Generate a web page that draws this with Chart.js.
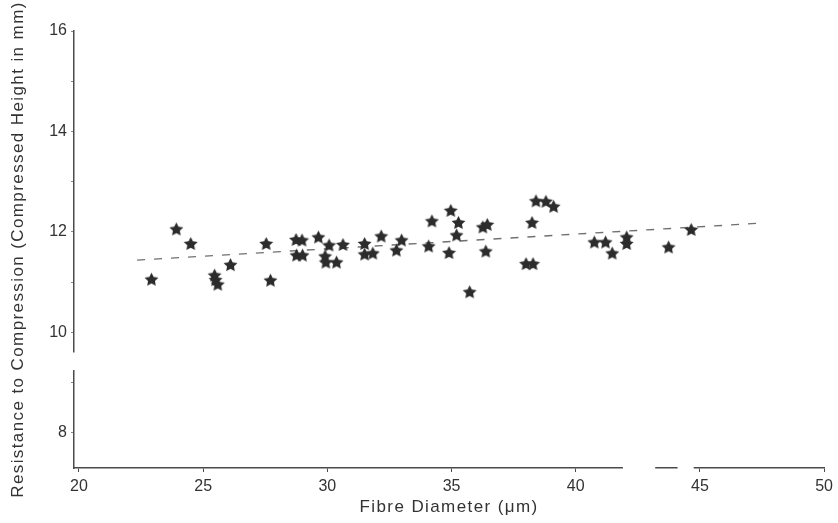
<!DOCTYPE html>
<html>
<head>
<meta charset="utf-8">
<script src="https://cdn.jsdelivr.net/npm/chart.js@4/dist/chart.umd.min.js"></script>
<style>
  html, body { margin: 0; padding: 0; background: #ffffff; }
  #wrap { width: 838px; height: 523px; position: relative; }
</style>
</head>
<body>
<div id="wrap"><canvas id="c" width="838" height="523"></canvas></div>
<script>
// Fibre diameter (µm) of each sample
const fibreDiameter = [
  22.92, 23.92, 24.50, 25.46, 25.50, 25.59, 26.10, 27.54, 27.71,
  28.74, 28.98, 28.76, 29.00, 29.64, 30.07, 29.91, 29.94, 30.37, 30.63,
  31.50, 31.50, 31.83, 32.17, 32.99, 32.78, 34.08, 34.21, 34.97, 35.28,
  35.20, 34.90, 35.73, 36.26, 36.44, 36.38, 38.24, 38.40, 38.80, 39.11,
  38.00, 38.28, 40.75, 41.20, 41.47, 42.05, 42.05, 43.74, 44.65
];
// Resistance to compression (compressed height in mm)
const compressedHeight = [
  11.06, 12.06, 11.77, 11.14, 11.05, 10.96, 11.35, 11.77, 11.04,
  11.85, 11.84, 11.54, 11.54, 11.90, 11.74, 11.52, 11.40, 11.40, 11.75,
  11.77, 11.56, 11.58, 11.92, 11.84, 11.64, 11.72, 12.22, 12.43, 12.19,
  11.94, 11.59, 10.81, 12.10, 12.15, 11.62, 12.19, 12.62, 12.61, 12.51,
  11.37, 11.37, 11.80, 11.80, 11.58, 11.90, 11.77, 11.70, 12.05
];
// Fitted trend line end points
const trendX = [22.34, 47.32];
const trendY = [11.44, 12.17];

const xTicks = [20, 25, 30, 35, 40, 45, 50];
const yTicks = [8, 9, 10, 11, 12, 13, 14, 15, 16];
const yLabelled = [8, 10, 12, 14, 16];

// breaks in the printed axis lines (data units)
const xAxisBreaks = [[41.9, 43.2], [44.1, 44.75]];
const yAxisBreaks = [[9.25, 9.6]];

// filled five-pointed star marker
function makeStar(size, color) {
  const cv = document.createElement('canvas');
  cv.width = size; cv.height = size;
  const g = cv.getContext('2d');
  const cx = size / 2, cy = size / 2 + 0.7;
  const ro = size / 2 - 0.2, ri = ro * 0.5;
  g.beginPath();
  for (let i = 0; i < 10; i++) {
    const r = i % 2 === 0 ? ro : ri;
    const a = -Math.PI / 2 + i * Math.PI / 5;
    const px = cx + r * Math.cos(a), py = cy + r * Math.sin(a);
    if (i === 0) g.moveTo(px, py); else g.lineTo(px, py);
  }
  g.closePath();
  g.fillStyle = color;
  g.fill();
  return cv;
}
const starImg = makeStar(15, '#2c2c2c');

const points = fibreDiameter.map((x, i) => ({ x: x, y: compressedHeight[i] }));
const trend = trendX.map((x, i) => ({ x: x, y: trendY[i] }));

const FONT = "'Liberation Sans', Arial, Helvetica, sans-serif";
const axisColor = '#4a4a4a';

// wider tracking for the axis titles, and breaks in the axis lines
const typesetPlugin = {
  id: 'typeset',
  beforeDraw(chart) {
    ['x', 'y'].forEach(id => {
      const s = chart.scales[id];
      if (s && !s._tracked) {
        const orig = s.drawTitle.bind(s);
        s.drawTitle = function (area) {
          const ctx = this.ctx;
          ctx.save();
          ctx.letterSpacing = '1.4px';
          orig(area);
          ctx.restore();
        };
        s._tracked = true;
      }
    });
  },
  afterDraw(chart) {
    const ctx = chart.ctx;
    const xs = chart.scales.x, ys = chart.scales.y;
    ctx.save();
    ctx.fillStyle = '#ffffff';
    xAxisBreaks.forEach(([a, b]) => {
      const p1 = xs.getPixelForValue(a), p2 = xs.getPixelForValue(b);
      ctx.fillRect(p1, ys.bottom - 3, p2 - p1, 6);
    });
    yAxisBreaks.forEach(([a, b]) => {
      const p1 = ys.getPixelForValue(b), p2 = ys.getPixelForValue(a);
      ctx.fillRect(xs.left - 3, p1, 6, p2 - p1);
    });
    ctx.restore();
  }
};

new Chart(document.getElementById('c'), {
  type: 'scatter',
  data: {
    datasets: [
      {
        type: 'line',
        data: trend,
        borderColor: '#707070',
        borderWidth: 1.3,
        borderDash: [8, 9],
        pointRadius: 0,
        fill: false,
        order: 2
      },
      {
        data: points,
        pointStyle: starImg,
        pointRadius: 7,
        order: 1
      }
    ]
  },
  plugins: [typesetPlugin],
  options: {
    responsive: false,
    animation: false,
    devicePixelRatio: 1,
    layout: { padding: { left: 0, right: 9, top: 31, bottom: 0 } },
    plugins: { legend: { display: false }, tooltip: { enabled: false } },
    scales: {
      x: {
        type: 'linear',
        min: 19.8,
        max: 50,
        afterBuildTicks: (s) => { s.ticks = xTicks.map(v => ({ value: v })); },
        afterFit: (s) => { s.height = 55; },
        border: { color: axisColor, width: 1.5 },
        grid: { drawOnChartArea: false, drawTicks: true, tickLength: 4, color: axisColor },
        ticks: { color: '#333', font: { family: FONT, size: 16 }, padding: 5, maxRotation: 0 },
        title: {
          display: true,
          text: 'Fibre Diameter (\u03bcm)',
          color: '#333',
          font: { family: FONT, size: 17 },
          padding: { top: 2, bottom: 5 }
        }
      },
      y: {
        type: 'linear',
        min: 7.3,
        max: 16,
        afterBuildTicks: (s) => { s.ticks = yTicks.map(v => ({ value: v })); },
        afterFit: (s) => { s.width = 74; },
        border: { color: axisColor, width: 1.5 },
        grid: { drawOnChartArea: false, drawTicks: true, tickLength: 3, color: '#888' },
        ticks: {
          color: '#333',
          font: { family: FONT, size: 16 },
          padding: 4,
          callback: (v) => (yLabelled.includes(v) ? String(v) : '')
        },
        title: {
          display: true,
          text: 'Resistance to Compression (Compressed Height in mm)',
          color: '#333',
          font: { family: FONT, size: 17 },
          padding: { top: 8, bottom: 0 }
        }
      }
    }
  }
});
</script>
</body>
</html>
